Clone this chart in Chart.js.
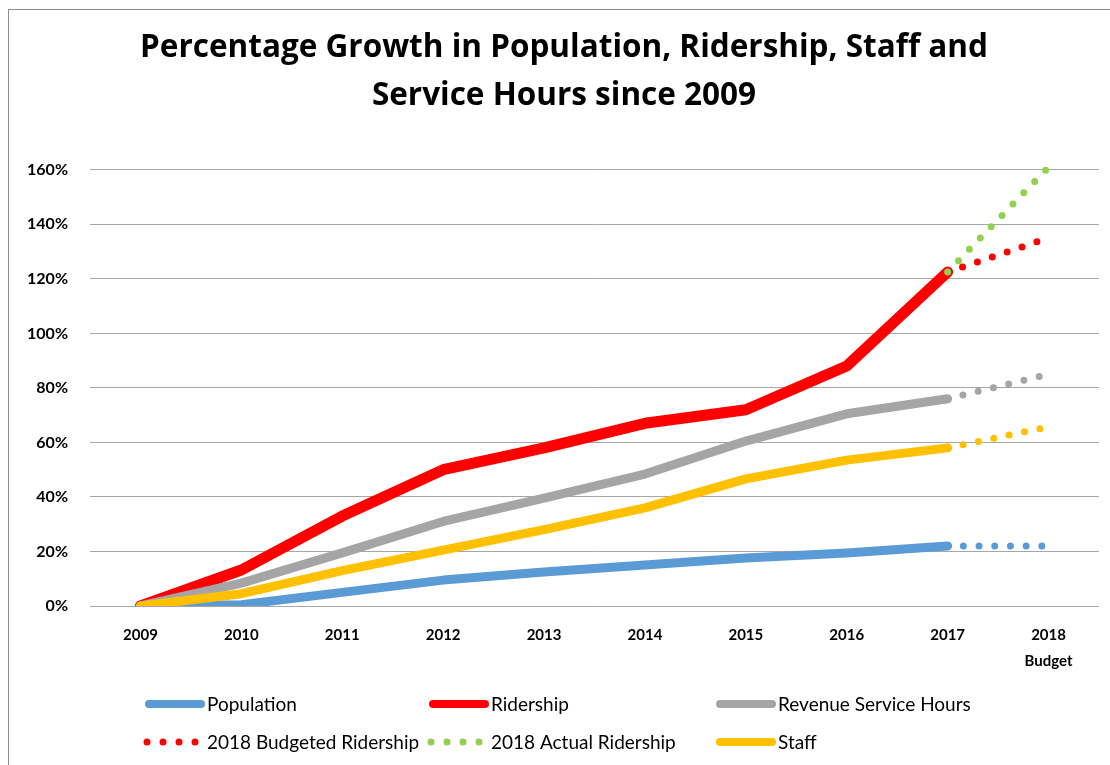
<!DOCTYPE html>
<html>
<head>
<meta charset="utf-8">
<script src="https://cdn.jsdelivr.net/npm/chart.js@4.4.1/dist/chart.umd.min.js"></script>
<style>
    body { margin: 0; background: #fff; overflow: hidden; }
    #frame {
        position: absolute; left: 8px; top: 9px;
        width: 1110px; height: 756px;
        border-left: 1px solid #8c8c8c; border-top: 1px solid #8c8c8c;
    }
</style>
</head>
<body>
<div id="frame"><canvas id="growthChart" width="1110" height="756"></canvas></div>
<script>
    // values, in percent
    var years = ['2009', '2010', '2011', '2012', '2013', '2014', '2015', '2016', '2017', ['2018', 'Budget']];
    var population = [0, 0.5, 5, 9.5, 12.5, 15, 17.6, 19.4, 22, null];
    var ridership = [0, 13.2, 33, 50, 58, 67, 72, 88, 122.5, null];
    var serviceHours = [0, 8.4, 19.5, 31, 39.6, 48.4, 60.5, 70.5, 76, null];
    var staff = [0, 4.5, 13, 20.5, 28, 36, 46.6, 53.5, 58, null];
    // 2017 -> 2018 dotted parts
    var populationBudget = [null, null, null, null, null, null, null, null, 22, 22];
    var serviceHoursBudget = [null, null, null, null, null, null, null, null, 76, 85];
    var staffBudget = [null, null, null, null, null, null, null, null, 58, 65.7];
    var budgetedRidership = [null, null, null, null, null, null, null, null, 122.5, 135];
    var actualRidership = [null, null, null, null, null, null, null, null, 122.5, 161];
    var yTicks = [0, 20, 40, 60, 80, 100, 120, 140, 160];

    var blue = '#5b9bd5', red = '#ff0000', grey = '#a5a5a5', gold = '#ffc000', green = '#92d050';
    var fontFamily = 'Lato, "Open Sans", sans-serif';
    var lineClip = { left: 20, top: 20, right: 20, bottom: 0 };

    function solidLine(label, data, color, width, order) {
        return {
            label: label, data: data, borderColor: color, backgroundColor: color,
            borderWidth: width, pointRadius: 0, tension: 0, order: order,
            borderCapStyle: 'round', borderJoinStyle: 'round', clip: lineClip, spanGaps: false
        };
    }
    function dottedLine(label, data, color, order, hideLegend) {
        var ds = solidLine(label, data, color, 7, order);
        ds.borderDash = [0, 15.7];
        ds.dotted = true;
        ds.hideLegend = hideLegend;
        return ds;
    }

    // legend drawn in a 3 column grid like the original
    var gridLegend = {
        id: 'gridLegend',
        afterDraw: function (chart) {
            var ctx = chart.ctx;
            var items = chart.data.datasets.filter(function (d) { return !d.hideLegend; });
            var cols = [136, 420, 707];
            var rows = [694, 732];
            ctx.save();
            ctx.font = '19px ' + fontFamily;
            ctx.textBaseline = 'middle';
            ctx.fillStyle = '#000';
            items.forEach(function (d, i) {
                var x = cols[i % 3], y = rows[Math.floor(i / 3)];
                ctx.beginPath();
                ctx.strokeStyle = d.borderColor;
                ctx.lineCap = 'round';
                if (d.dotted) {
                    ctx.lineWidth = 7;
                    ctx.setLineDash([0, 16]);
                    ctx.moveTo(x + 2, y);
                    ctx.lineTo(x + 52, y);
                } else {
                    ctx.lineWidth = 8;
                    ctx.setLineDash([]);
                    ctx.moveTo(x + 4, y);
                    ctx.lineTo(x + 56, y);
                }
                ctx.stroke();
                ctx.fillText(d.label, x + 62, y + 1);
            });
            ctx.restore();
        }
    };

    var ctx = document.getElementById('growthChart').getContext('2d');
    var chart = new Chart(ctx, {
        type: 'line',
        data: {
            labels: years,
            datasets: [
                solidLine('Population', population, blue, 9, 12),
                solidLine('Ridership', ridership, red, 11, 10),
                solidLine('Revenue Service Hours', serviceHours, grey, 9, 8),
                dottedLine('2018 Budgeted Ridership', budgetedRidership, red, 4, false),
                dottedLine('2018 Actual Ridership', actualRidership, green, 2, false),
                solidLine('Staff', staff, gold, 9, 0),
                dottedLine('Population 2018', populationBudget, blue, 11, true),
                dottedLine('Service Hours 2018', serviceHoursBudget, grey, 7, true),
                dottedLine('Staff 2018', staffBudget, gold, 1, true)
            ]
        },
        options: {
            responsive: false,
            animation: false,
            layout: { padding: 0 },
            plugins: {
                legend: { display: false },
                tooltip: { enabled: false },
                title: {
                    display: true,
                    text: ['Percentage Growth in Population, Ridership, Staff and', 'Service Hours since 2009'],
                    color: '#000',
                    font: { family: '"Open Sans", Lato, sans-serif', size: 31.5, weight: 'bold', lineHeight: 1.52 },
                    padding: { top: 14, bottom: 50 }
                }
            },
            scales: {
                x: {
                    offset: true,
                    grid: { display: false },
                    border: { display: false },
                    ticks: {
                        color: '#000',
                        font: { family: fontFamily, size: 15, weight: 'bold', lineHeight: 1.73 },
                        padding: 8,
                        maxRotation: 0,
                        autoSkip: false
                    },
                    afterFit: function (scale) { scale.height = 160; }
                },
                y: {
                    min: 0,
                    max: 160,
                    afterBuildTicks: function (scale) {
                        scale.ticks = yTicks.map(function (v) { return { value: v }; });
                    },
                    grid: { color: '#a6a6a6', lineWidth: 1, drawTicks: false },
                    border: { display: false },
                    ticks: {
                        color: '#000',
                        padding: 22,
                        font: { family: fontFamily, size: 16, weight: 'bold' },
                        callback: function (v) { return v + '%'; }
                    },
                    afterFit: function (scale) { scale.width = 81; }
                },
                // empty right axis, only keeps the right margin so the title stays centred on the canvas
                yRight: {
                    position: 'right',
                    min: 0,
                    max: 160,
                    grid: { display: false },
                    border: { display: false },
                    ticks: { display: false },
                    afterFit: function (scale) { scale.width = 20; }
                }
            }
        },
        plugins: [gridLegend]
    });
</script>
</body>
</html>
